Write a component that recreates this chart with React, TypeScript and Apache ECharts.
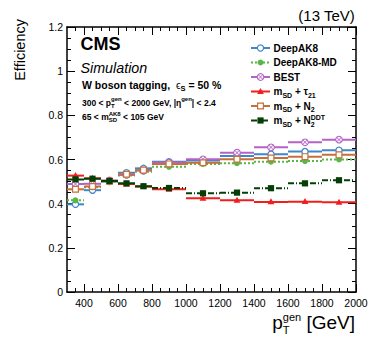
import React, { useEffect, useRef } from "react";
import * as echarts from "echarts";

const FAMILY = "'Liberation Sans', Arial, Helvetica, sans-serif";

// bin edges in pT (GeV)
const binEdges = [300, 400, 500, 600, 700, 800, 1000, 1200, 1400, 1600, 1800, 2000];

const deepAK8 = [0.397, 0.461, 0.5, 0.54, 0.56, 0.59, 0.595, 0.616, 0.624, 0.636, 0.642];
const deepAK8MD = [0.415, 0.474, 0.5, 0.528, 0.545, 0.567, 0.58, 0.583, 0.59, 0.593, 0.6];
const best = [0.489, 0.49, 0.505, 0.53, 0.55, 0.586, 0.601, 0.631, 0.655, 0.678, 0.69];
const tau21 = [0.527, 0.515, 0.503, 0.489, 0.477, 0.465, 0.424, 0.415, 0.408, 0.409, 0.406];
const n2 = [0.465, 0.478, 0.502, 0.533, 0.552, 0.58, 0.585, 0.601, 0.607, 0.613, 0.621];
const n2ddt = [0.51, 0.513, 0.503, 0.492, 0.479, 0.471, 0.447, 0.45, 0.47, 0.492, 0.506];

const xTickLabels = [400, 600, 800, 1000, 1200, 1400, 1600, 1800, 2000];
const xMinorTicks = [350, 450, 500, 550, 650, 700, 750, 850, 900, 950, 1050, 1100, 1150, 1250, 1300, 1350, 1450, 1500, 1550, 1650, 1700, 1750, 1850, 1900, 1950];

type Run = { t: string; s: number; b?: boolean; i?: boolean; dy?: number; stack?: boolean };

const seriesDefs = [
  { name: "DeepAK8", values: deepAK8, color: "#3f87c9", marker: "openCircle", dash: null as number[] | null,
    label: [{ t: "DeepAK8", s: 10, b: true }] as Run[] },
  { name: "DeepAK8-MD", values: deepAK8MD, color: "#5ab646", marker: "dot", dash: [2, 2],
    label: [{ t: "DeepAK8-MD", s: 10, b: true }] as Run[] },
  { name: "BEST", values: best, color: "#b462c6", marker: "crossCircle", dash: null,
    label: [{ t: "BEST", s: 10, b: true }] as Run[] },
  { name: "tau21", values: tau21, color: "#f21d1d", marker: "triangle", dash: null,
    label: [
      { t: "m", s: 10, b: true },
      { t: "SD", s: 7, b: true, dy: 2.5 },
      { t: " + τ", s: 10, b: true },
      { t: "21", s: 7, b: true, dy: 2.5 },
    ] as Run[] },
  { name: "N2", values: n2, color: "#c56f3a", marker: "openSquare", dash: null,
    label: [
      { t: "m", s: 10, b: true },
      { t: "SD", s: 7, b: true, dy: 2.5 },
      { t: " + N", s: 10, b: true },
      { t: "2", s: 7, b: true, dy: 2.5 },
    ] as Run[] },
  { name: "N2DDT", values: n2ddt, color: "#063f06", marker: "square", dash: [6, 2, 1, 2],
    label: [
      { t: "m", s: 10, b: true },
      { t: "SD", s: 7, b: true, dy: 2.5 },
      { t: " + N", s: 10, b: true },
      { t: "2", s: 7, b: true, dy: 3 },
      { t: "DDT", s: 7, b: true, dy: -4.5, stack: true },
    ] as Run[] },
];

let measureCtx: CanvasRenderingContext2D | null = null;
function measure(text: string, font: string) {
  if (!measureCtx) measureCtx = document.createElement("canvas").getContext("2d");
  measureCtx!.font = font;
  return measureCtx!.measureText(text).width;
}

function layoutRuns(x0: number, baseline: number, runs: Run[], align: "left" | "right" = "left") {
  let cur = 0;
  let prevX = 0;
  const placed: { x: number; r: Run }[] = [];
  for (const r of runs) {
    const font = `${r.i ? "italic " : ""}${r.b ? "bold " : ""}${r.s}px ${FAMILY}`;
    const w = measure(r.t, font);
    const x = r.stack ? prevX : cur;
    placed.push({ x, r });
    prevX = x;
    cur = Math.max(cur, x + w);
  }
  const start = align === "right" ? x0 - cur : x0;
  return placed.map((p) => ({
    type: "text",
    x: start + p.x,
    y: baseline + (p.r.dy || 0) - 0.35 * p.r.s,
    z: 100,
    style: {
      text: p.r.t,
      fontSize: p.r.s,
      fontWeight: p.r.b ? "bold" : "normal",
      fontStyle: p.r.i ? "italic" : "normal",
      fontFamily: FAMILY,
      fill: "#000",
      align: "left",
      verticalAlign: "middle",
    },
  }));
}

function markerShapes(kind: string, cx: number, cy: number, color: string): any[] {
  switch (kind) {
    case "openCircle":
      return [{ type: "circle", shape: { cx, cy, r: 3.1 }, style: { fill: "#fff", stroke: color, lineWidth: 1.2 } }];
    case "dot":
      return [{ type: "circle", shape: { cx, cy, r: 3.0 }, style: { fill: color } }];
    case "crossCircle": {
      const r = 3.3;
      const d = r * 0.707;
      return [
        { type: "circle", shape: { cx, cy, r }, style: { fill: "#fff", stroke: color, lineWidth: 1.1 } },
        { type: "line", shape: { x1: cx - d, y1: cy - d, x2: cx + d, y2: cy + d }, style: { stroke: color, lineWidth: 1 } },
        { type: "line", shape: { x1: cx - d, y1: cy + d, x2: cx + d, y2: cy - d }, style: { stroke: color, lineWidth: 1 } },
      ];
    }
    case "triangle":
      return [{ type: "polygon", shape: { points: [[cx, cy - 3.6], [cx - 3.4, cy + 2.4], [cx + 3.4, cy + 2.4]] }, style: { fill: color } }];
    case "openSquare":
      return [{ type: "rect", shape: { x: cx - 2.9, y: cy - 2.9, width: 5.8, height: 5.8 }, style: { fill: "#fff", stroke: color, lineWidth: 1.2 } }];
    case "square":
      return [{ type: "rect", shape: { x: cx - 3.1, y: cy - 3.1, width: 6.2, height: 6.2 }, style: { fill: color } }];
  }
  return [];
}

function buildOption() {
  const series = seriesDefs.map((def, k) => ({
    type: "custom",
    name: def.name,
    xAxisIndex: 0,
    yAxisIndex: 0,
    z: 2 + k,
    data: def.values.map((v, i) => [binEdges[i], binEdges[i + 1], v]),
    encode: { x: [0, 1], y: 2 },
    renderItem: (_params: any, api: any) => {
      const v = api.value(2);
      const a = api.coord([api.value(0), v]);
      const b = api.coord([api.value(1), v]);
      const cx = (a[0] + b[0]) / 2;
      const cy = a[1];
      return {
        type: "group",
        children: [
          {
            type: "line",
            shape: { x1: a[0], y1: cy, x2: b[0], y2: cy },
            style: { stroke: def.color, lineWidth: 2, lineDash: def.dash || undefined },
          },
          ...markerShapes(def.marker, cx, cy, def.color),
        ],
      };
    },
  }));

  const graphics: any[] = [];
  // Legend
  const rowY = [48, 62.5, 77, 91.5, 106, 120.5];
  seriesDefs.forEach((def, k) => {
    const y = rowY[k];
    graphics.push({
      type: "line",
      z: 100,
      shape: { x1: 251, y1: y, x2: 270, y2: y },
      style: { stroke: def.color, lineWidth: 2, lineDash: def.dash || undefined },
    });
    markerShapes(def.marker, 260.5, y, def.color).forEach((m) => graphics.push({ ...m, z: 101 }));
    graphics.push(...layoutRuns(273.5, y + 3.7, def.label));
  });

  // Top-left texts
  graphics.push(...layoutRuns(80.5, 50.5, [{ t: "CMS", s: 18, b: true }]));
  graphics.push(...layoutRuns(80.5, 73, [{ t: "Simulation", s: 14.3, i: true }]));
  graphics.push(
    ...layoutRuns(82, 89, [
      { t: "W boson tagging,  ", s: 10.5, b: true },
      { t: "ϵ", s: 10.5 },
      { t: "S", s: 7.5, b: true, dy: 2.5 },
      { t: " = 50 %", s: 10.5, b: true },
    ])
  );
  graphics.push(
    ...layoutRuns(82, 105.5, [
      { t: "300 < p", s: 8.5, b: true },
      { t: "T", s: 6, b: true, dy: 2.5 },
      { t: "gen", s: 6, b: true, dy: -4, stack: true },
      { t: " < 2000 GeV, |η", s: 8.5, b: true },
      { t: "gen", s: 6, b: true, dy: -4 },
      { t: "| < 2.4", s: 8.5, b: true },
    ])
  );
  graphics.push(
    ...layoutRuns(82, 120, [
      { t: "65 < m", s: 8.5, b: true },
      { t: "SD", s: 6, b: true, dy: 2.5 },
      { t: "AK8", s: 6, b: true, dy: -4, stack: true },
      { t: " < 105 GeV", s: 8.5, b: true },
    ])
  );
  // (13 TeV)
  graphics.push(...layoutRuns(355, 20.5, [{ t: "(13 TeV)", s: 15 }], "right"));
  // x-axis title
  graphics.push(
    ...layoutRuns(355, 329, [
      { t: "p", s: 19 },
      { t: "T", s: 11, dy: 5 },
      { t: "gen", s: 11, dy: -8, stack: true },
      { t: " [GeV]", s: 19 },
    ], "right")
  );
  // y-axis title
  graphics.push({
    type: "text",
    x: 20,
    y: 19,
    rotation: Math.PI / 2,
    z: 100,
    style: {
      text: "Efficiency",
      fontSize: 14.5,
      fontFamily: FAMILY,
      fill: "#000",
      align: "right",
      verticalAlign: "middle",
    },
  });

  const tickLine = { color: "#000", width: 1 };
  const axisLineStyle = { show: true, onZero: false, lineStyle: { color: "#000", width: 1.5 } };

  const gridPos = { left: 67, right: 18, top: 27, bottom: 51 };

  return {
    animation: false,
    backgroundColor: "#fff",
    grid: [
      { ...gridPos, containLabel: false },
      { ...gridPos, containLabel: false },
    ],
    xAxis: [
      {
        type: "value",
        gridIndex: 0,
        position: "bottom",
        min: 300,
        max: 2000,
        axisLine: axisLineStyle,
        axisTick: { show: true, inside: true, length: 8, customValues: xTickLabels, lineStyle: tickLine },
        axisLabel: {
          customValues: xTickLabels,
          formatter: (v: number) => String(v),
          color: "#000",
          fontSize: 10.5,
          fontFamily: FAMILY,
          margin: 5,
        },
        splitLine: { show: false },
      },
      {
        type: "value",
        gridIndex: 0,
        position: "top",
        min: 300,
        max: 2000,
        axisLine: axisLineStyle,
        axisTick: { show: true, inside: true, length: 8, customValues: xTickLabels, lineStyle: tickLine },
        axisLabel: { show: false },
        splitLine: { show: false },
      },
      {
        type: "value",
        gridIndex: 1,
        position: "bottom",
        min: 300,
        max: 2000,
        axisLine: { show: false },
        axisTick: { show: true, inside: true, length: 4, customValues: xMinorTicks, lineStyle: tickLine },
        axisLabel: { show: false },
        splitLine: { show: false },
      },
      {
        type: "value",
        gridIndex: 1,
        position: "top",
        min: 300,
        max: 2000,
        axisLine: { show: false },
        axisTick: { show: true, inside: true, length: 4, customValues: xMinorTicks, lineStyle: tickLine },
        axisLabel: { show: false },
        splitLine: { show: false },
      },
    ],
    yAxis: [
      {
        type: "value",
        gridIndex: 0,
        position: "left",
        min: 0,
        max: 1.2,
        interval: 0.2,
        axisLine: axisLineStyle,
        axisTick: { show: true, inside: true, length: 8, lineStyle: tickLine },
        minorTick: { show: true, splitNumber: 4, length: 4, lineStyle: tickLine },
        axisLabel: { color: "#000", fontSize: 10.5, fontFamily: FAMILY, margin: 4 },
        splitLine: { show: false },
      },
      {
        type: "value",
        gridIndex: 0,
        position: "right",
        min: 0,
        max: 1.2,
        interval: 0.2,
        axisLine: axisLineStyle,
        axisTick: { show: true, inside: true, length: 8, lineStyle: tickLine },
        minorTick: { show: true, splitNumber: 4, length: 4, lineStyle: tickLine },
        axisLabel: { show: false },
        splitLine: { show: false },
      },
      {
        type: "value",
        gridIndex: 1,
        min: 0,
        max: 1.2,
        show: false,
      },
    ],
    series,
    graphic: graphics,
  };
}

export default function App() {
  const ref = useRef<HTMLDivElement>(null);
  useEffect(() => {
    document.body.style.margin = "0";
    if (!ref.current) return;
    const chart = echarts.init(ref.current, undefined, { renderer: "svg" });
    chart.setOption(buildOption() as any);
    return () => chart.dispose();
  }, []);
  return <div ref={ref} style={{ width: 374, height: 343 }} />;
}
